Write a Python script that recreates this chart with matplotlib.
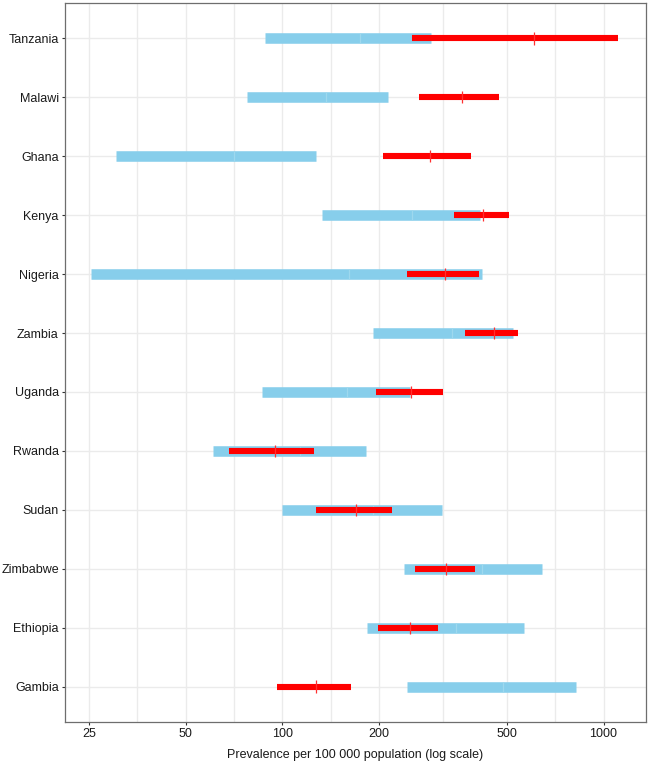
import matplotlib.pyplot as plt
import numpy as np

plt.rcParams['font.family'] = ['Liberation Sans', 'DejaVu Sans']

# Data
countries = ['Tanzania', 'Malawi', 'Ghana', 'Kenya', 'Nigeria', 'Zambia',
             'Uganda', 'Rwanda', 'Sudan', 'Zimbabwe', 'Ethiopia', 'Gambia']

blue_lo = [88, 77.5, 30.4, 133, 25.4, 192, 86.7, 61, 99.8, 239, 184, 244]
blue_hi = [290, 213, 127, 412, 417, 524, 250, 182, 314, 645, 567, 818]
blue_mid = [175, 137, 70.7, 254, 161, 338, 159, 113.5, 192, 417, 348, 488]

red_lo = [254, 266, 205, 343, 244, 371, 195, 68, 127, 258, 199, 96]
red_hi = [1113, 471, 388, 506, 409, 543, 316, 125, 220, 397, 306, 164]
red_mid = [608, 362, 289, 421, 321, 455, 252, 94.5, 170, 324, 249, 127]

major_ticks = [25, 50, 100, 200, 500, 1000]
minor_ticks = [35.36, 70.71, 141.4, 316.2, 707.1]

ypos = np.arange(len(countries))

fig = plt.figure(figsize=(6.48, 7.63), dpi=100)
ax = fig.add_axes([65/648, 1 - 722/763, 581/648, 719/763])
ax.set_xscale('log')

# grid
for v in major_ticks + minor_ticks:
    ax.axvline(v, color='#ebebeb', lw=1.0, zorder=0)
for y in ypos:
    ax.axhline(y, color='#ebebeb', lw=1.0, zorder=0)

# blue ranges
ax.hlines(ypos, blue_lo, blue_hi, color='#87ceeb', lw=7.6, capstyle='butt', zorder=2)
ax.vlines(blue_mid, ypos - 0.085, ypos + 0.085, color='#9ed8ee', lw=0.9, zorder=3)

# red ranges
ax.hlines(ypos, red_lo, red_hi, color='#ff0000', lw=4.4, capstyle='butt', zorder=4)
ax.vlines(red_mid, ypos - 0.105, ypos + 0.105, color='#ff3030', lw=0.9, zorder=5)

ax.set_xlim(21.04, 1356)
ax.set_ylim(len(countries) - 0.4, -0.6)

ax.set_xticks(major_ticks)
ax.set_xticklabels([str(v) for v in major_ticks])
ax.xaxis.set_minor_locator(plt.NullLocator())
ax.set_yticks(ypos)
ax.set_yticklabels(countries)

ax.tick_params(axis='both', length=2.5, width=0.8, color='#333333',
               labelsize=9, labelcolor='#1a1a1a', pad=2)

for s in ax.spines.values():
    s.set_color('#6e6e6e')
    s.set_linewidth(0.9)

ax.set_xlabel('Prevalence per 100 000 population (log scale)', fontsize=9,
              color='#1a1a1a', labelpad=6)

plt.savefig('out.png', dpi=100)
